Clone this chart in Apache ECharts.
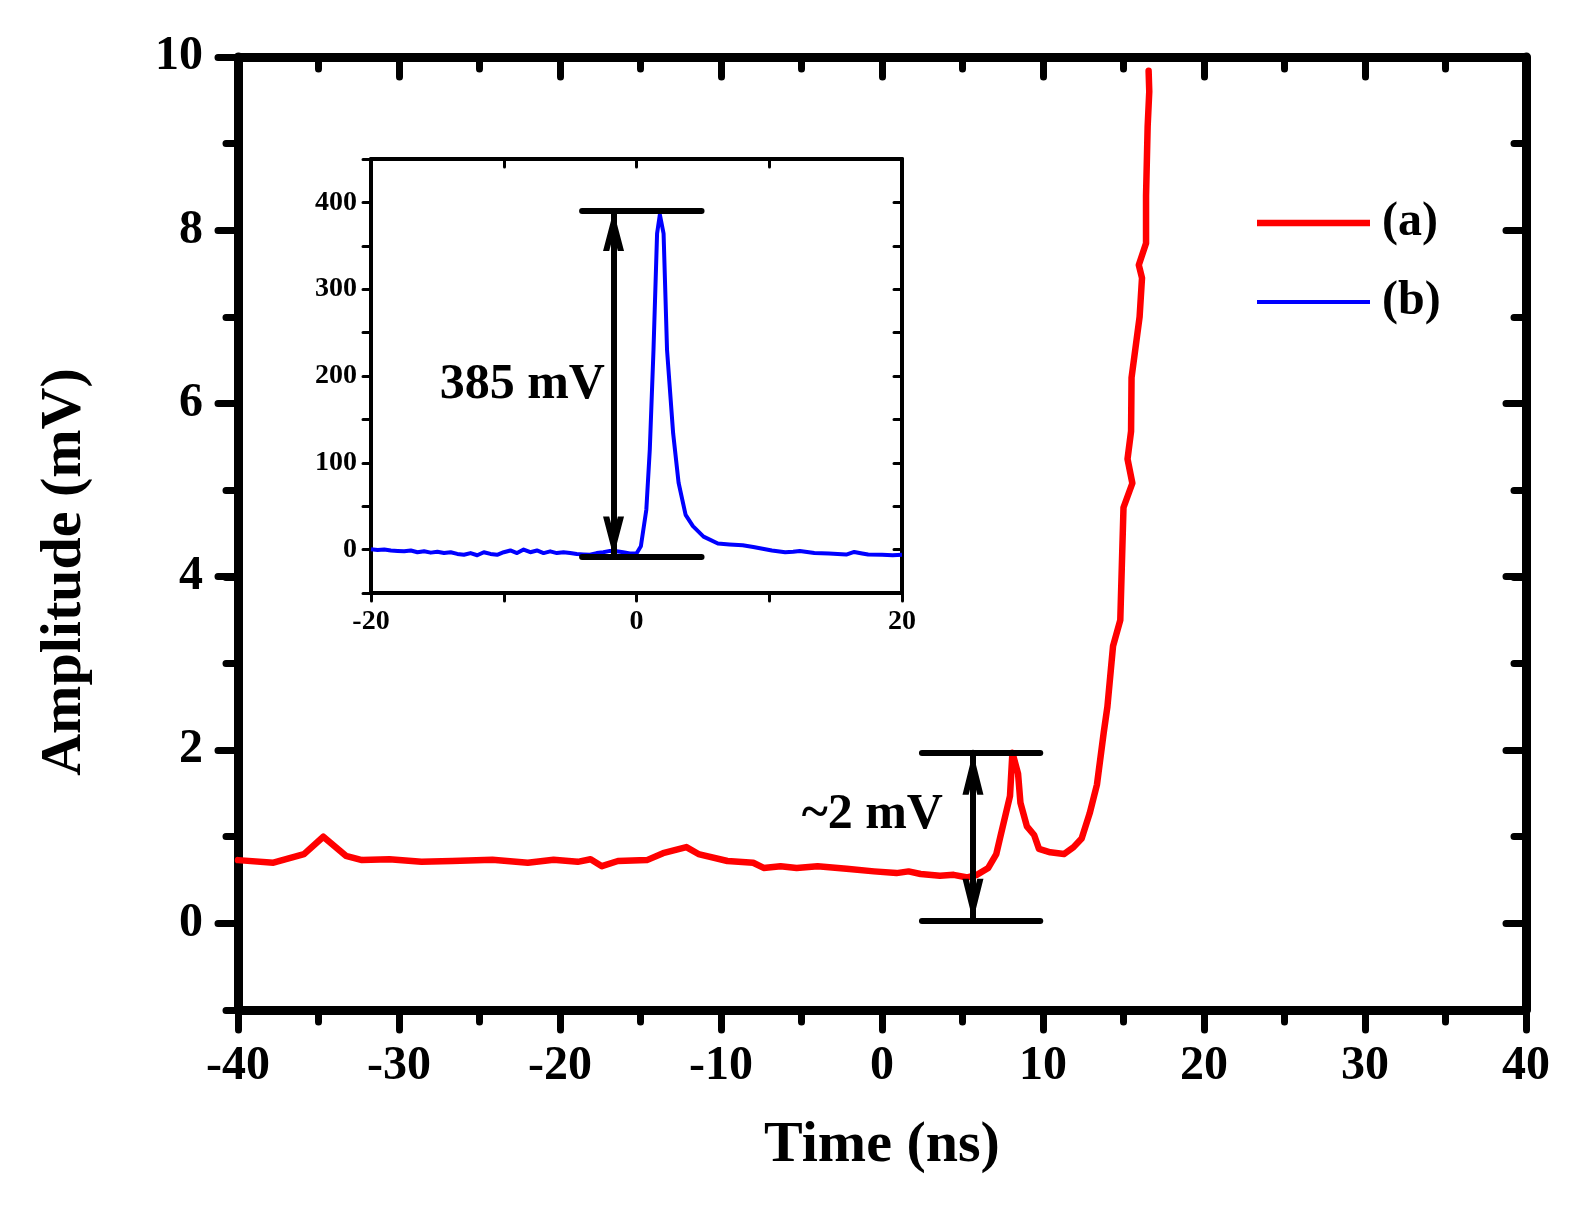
<!DOCTYPE html>
<html>
<head>
<meta charset="utf-8">
<script src="https://cdn.jsdelivr.net/npm/echarts@6/dist/echarts.min.js"></script>
<style>
html,body{margin:0;padding:0;background:#ffffff;}
#chart{width:1581px;height:1209px;}
</style>
</head>
<body>
<div id="chart"></div>
<script>
// ---------- data ----------
// (a) main trace: time (ns) and amplitude (mV)
const redTime = [-40, -37.8, -35.9, -34.7, -33.3, -32.3, -30.6, -28.6, -26.7, -24.2, -22.0, -20.4, -18.9, -18.1, -17.4, -16.4, -14.6, -13.6, -12.15, -11.4, -9.6, -8.0, -7.35, -6.3, -5.3, -4.0, -2.2, -0.5, 0.9, 1.65, 2.4, 3.6, 4.45, 5.3, 5.9, 6.6, 7.1, 7.35, 7.95, 8.1, 8.45, 8.6, 9.0, 9.45, 9.75, 10.45, 11.3, 11.9, 12.4, 12.9, 13.35, 13.77, 14.0, 14.35, 14.8, 15.0, 15.55, 15.25, 15.47, 15.5, 16.0, 16.15, 15.95, 16.4, 16.4, 16.5, 16.6, 16.56];
const redAmp  = [0.73, 0.70, 0.80, 1.0, 0.78, 0.73, 0.74, 0.71, 0.72, 0.735, 0.70, 0.735, 0.71, 0.74, 0.66, 0.72, 0.73, 0.81, 0.88, 0.80, 0.72, 0.70, 0.64, 0.66, 0.64, 0.66, 0.63, 0.60, 0.58, 0.60, 0.57, 0.55, 0.56, 0.53, 0.56, 0.64, 0.80, 1.0, 1.47, 1.97, 1.73, 1.39, 1.12, 1.02, 0.86, 0.82, 0.80, 0.88, 0.98, 1.27, 1.6, 2.2, 2.5, 3.2, 3.5, 4.8, 5.08, 5.36, 5.68, 6.3, 7.0, 7.45, 7.6, 7.85, 8.4, 9.2, 9.6, 9.84];

// (b) inset trace: time (ns) and amplitude (mV)
const blueTime = [-20, -19.5, -19, -18.5, -18, -17.5, -17, -16.5, -16, -15.5, -15, -14.5, -14, -13.5, -13, -12.5, -12, -11.5, -11, -10.5, -10, -9.5, -9, -8.5, -8, -7.5, -7, -6.5, -6, -5.5, -5, -4.5, -4, -3.5, -3, -2.5, -2, -1.5, -1, -0.5, 0, 0.33, 0.74, 1.0, 1.28, 1.55, 1.76, 2.04, 2.3, 2.76, 3.17, 3.7, 4.25, 5.05, 6.13, 7.0, 8.0, 8.8, 9.5, 10.2, 11.2, 11.8, 12.3, 13.4, 14.5, 15.8, 16.4, 17.0, 17.45, 18.5, 19.3, 20];
const blueAmp  = [0.5, -0.5, 0, -1, -1.5, -2, -1, -3, -2, -3.5, -2.5, -4, -3, -5, -6, -4, -6.5, -3, -5, -6, -3, -1, -4, 0, -3, -1, -4, -2, -4, -3, -4, -5, -5.5, -6, -4, -3, -1.5, -2, -3, -4.5, -4.5, 3.8, 46, 115, 230, 364, 386, 364, 230, 134, 77, 40, 27, 15, 7, 6, 5, 3, 1, -1, -3, -2.5, -1.5, -3.8, -4.5, -5.7, -2.7, -4.5, -5.7, -6, -6.5, -6];

// annotation values
const mainBarTime = [2.48, 9.83];      // extent of the ~2 mV bars
const mainBarAmp  = [0.03, 1.97];      // lower / upper bar level
const mainArrowTime = 5.65;
const mainLabel = { text: '~2 mV', time: -0.6, amp: 1.255 };
const insetBarTime = [-4.1, 4.9];
const insetBarAmp  = [-8, 390];
const insetArrowTime = -1.73;
const insetLabel = { text: '385 mV', time: -8.6, amp: 189 };

// tick labels
const mainYLabels  = [0, 2, 4, 6, 8, 10];
const insetXLabels = [-20, 0, 20];
const insetYLabels = [0, 100, 200, 300, 400];
const legendNames  = ['(a)', '(b)'];

// ---------- chart ----------
const FONT = 'Liberation Serif';
const BLACK = '#000000';
const redData  = redTime.map((t, i) => [t, redAmp[i]]);
const blueData = blueTime.map((t, i) => [t, blueAmp[i]]);

const chevron = 'path://M10,0 L10.05,0 L10.05,0.05 Z M10,42 L20.5,84 L14.3,84 L10,66.8 L5.7,84 L-0.5,84 Z';

function tickStyle(w) { return { color: BLACK, width: w, cap: 'round' }; }

const mainTickW = 7;
const insetTickW = 3;

const option = {
  animation: false,
  backgroundColor: '#ffffff',
  grid: [
    { left: 238, top: 57, width: 1288, height: 953 },           // main
    { left: 238, top: 57, width: 1288, height: 866 },           // main major y ticks (0..10)
    { left: 371, top: 159, width: 531, height: 434 }            // inset
  ],
  xAxis: [
    { gridIndex: 0, type: 'value', position: 'bottom', min: -40, max: 40, interval: 10,
      axisLine: { show: true, onZero: false, lineStyle: { color: BLACK, width: 9 } },
      axisTick: { show: true, length: 20, lineStyle: tickStyle(mainTickW) },
      minorTick: { show: true, splitNumber: 2, length: 12, lineStyle: tickStyle(mainTickW) },
      splitLine: { show: false }, minorSplitLine: { show: false },
      axisLabel: { show: true, margin: 33, fontFamily: FONT, fontSize: 48, fontWeight: 'bold', color: BLACK },
      name: 'Time (ns)', nameLocation: 'middle', nameGap: 107,
      nameTextStyle: { fontFamily: FONT, fontSize: 58, fontWeight: 'bold', color: BLACK } },
    { gridIndex: 0, type: 'value', position: 'top', min: -40, max: 40, interval: 10,
      axisLine: { show: true, onZero: false, lineStyle: { color: BLACK, width: 9 } },
      axisTick: { show: true, inside: true, length: 20, lineStyle: tickStyle(mainTickW) },
      minorTick: { show: true, splitNumber: 2, length: 12, lineStyle: tickStyle(mainTickW) },
      splitLine: { show: false }, minorSplitLine: { show: false },
      axisLabel: { show: false } },
    { gridIndex: 1, type: 'value', min: -40, max: 40, show: false },
    { gridIndex: 2, type: 'value', position: 'bottom', min: -20, max: 20, interval: 10,
      axisLine: { show: true, onZero: false, lineStyle: { color: BLACK, width: 4 } },
      axisTick: { show: true, length: 8, lineStyle: tickStyle(insetTickW) },
      splitLine: { show: false },
      axisLabel: { show: true, margin: 15, fontFamily: FONT, fontSize: 28, fontWeight: 'bold', color: BLACK,
        formatter: v => insetXLabels.includes(v) ? String(v) : '' } },
    { gridIndex: 2, type: 'value', position: 'top', min: -20, max: 20, interval: 10,
      axisLine: { show: true, onZero: false, lineStyle: { color: BLACK, width: 4 } },
      axisTick: { show: true, inside: true, length: 8, lineStyle: tickStyle(insetTickW) },
      splitLine: { show: false }, axisLabel: { show: false } }
  ],
  yAxis: [
    { gridIndex: 0, type: 'value', position: 'left', min: -1, max: 10, interval: 1,
      axisLine: { show: true, onZero: false, lineStyle: { color: BLACK, width: 9 } },
      axisTick: { show: true, length: 12, lineStyle: tickStyle(mainTickW) },
      splitLine: { show: false },
      axisLabel: { show: true, margin: 35, fontFamily: FONT, fontSize: 48, fontWeight: 'bold', color: BLACK,
        formatter: v => mainYLabels.includes(v) ? String(v) : '' } },
    { gridIndex: 0, type: 'value', position: 'right', min: -1, max: 10, interval: 1,
      axisLine: { show: true, onZero: false, lineStyle: { color: BLACK, width: 9 } },
      axisTick: { show: true, inside: true, length: 12, lineStyle: tickStyle(mainTickW) },
      splitLine: { show: false }, axisLabel: { show: false } },
    { gridIndex: 1, type: 'value', position: 'left', min: 0, max: 10, interval: 2,
      axisLine: { show: false, onZero: false },
      axisTick: { show: true, length: 20, lineStyle: tickStyle(mainTickW) },
      splitLine: { show: false }, axisLabel: { show: false } },
    { gridIndex: 1, type: 'value', position: 'right', min: 0, max: 10, interval: 2,
      axisLine: { show: false, onZero: false },
      axisTick: { show: true, inside: true, length: 20, lineStyle: tickStyle(mainTickW) },
      splitLine: { show: false }, axisLabel: { show: false } },
    { gridIndex: 2, type: 'value', position: 'left', min: -50, max: 450, interval: 50,
      axisLine: { show: true, onZero: false, lineStyle: { color: BLACK, width: 4 } },
      axisTick: { show: true, length: 8, lineStyle: tickStyle(insetTickW) },
      splitLine: { show: false },
      axisLabel: { show: true, margin: 14, fontFamily: FONT, fontSize: 28, fontWeight: 'bold', color: BLACK,
        formatter: v => insetYLabels.includes(v) ? String(v) : '' } },
    { gridIndex: 2, type: 'value', position: 'right', min: -50, max: 450, interval: 50,
      axisLine: { show: true, onZero: false, lineStyle: { color: BLACK, width: 4 } },
      axisTick: { show: true, inside: true, length: 8, lineStyle: tickStyle(insetTickW) },
      splitLine: { show: false }, axisLabel: { show: false } }
  ],
  legend: {
    orient: 'vertical', left: 1257, top: 199, padding: 0,
    itemWidth: 113, itemHeight: 14, itemGap: 31, selectedMode: false,
    textStyle: { fontFamily: FONT, fontSize: 48, fontWeight: 'bold', color: BLACK, padding: [0, 0, 0, 7] },
    data: [
      { name: legendNames[0], icon: 'path://M0,0H113V6.5H0Z' },
      { name: legendNames[1], icon: 'path://M0,0H116V4H0Z' }
    ]
  },
  graphic: [
    { type: 'text', x: 65, y: 572, rotation: Math.PI / 2, silent: true,
      style: { text: 'Amplitude (mV)', fontFamily: FONT, fontSize: 58, fontWeight: 'bold', fill: BLACK,
        align: 'center', verticalAlign: 'middle' } }
  ],
  series: [
    { name: legendNames[0], type: 'line', xAxisIndex: 0, yAxisIndex: 0, data: redData,
      symbol: 'none', color: '#ff0000', lineStyle: { color: '#ff0000', width: 6.5, join: 'round', cap: 'round' }, z: 3,
      markLine: {
        silent: true, symbol: ['none', 'none'], label: { show: false }, z: 5,
        lineStyle: { color: BLACK, width: 6, type: 'solid', cap: 'round' },
        emphasis: { disabled: true },
        data: [
          [{ coord: [mainBarTime[0], mainBarAmp[1]] }, { coord: [mainBarTime[1], mainBarAmp[1]] }],
          [{ coord: [mainBarTime[0], mainBarAmp[0]] }, { coord: [mainBarTime[1], mainBarAmp[0]] }],
          [{ coord: [mainArrowTime, mainBarAmp[0]], symbol: chevron, symbolSize: [21, 84] },
           { coord: [mainArrowTime, mainBarAmp[1]], symbol: chevron, symbolSize: [21, 84] }]
        ]
      },
      markPoint: {
        silent: true, symbol: 'circle', symbolSize: 0,
        label: { show: true, position: 'inside', formatter: '{b}', fontFamily: FONT, fontSize: 50, fontWeight: 'bold', color: BLACK },
        data: [{ name: mainLabel.text, coord: [mainLabel.time, mainLabel.amp] }]
      }
    },
    { name: legendNames[1], type: 'line', xAxisIndex: 3, yAxisIndex: 4, data: blueData,
      symbol: 'none', color: '#0000ff', lineStyle: { color: '#0000ff', width: 4, join: 'round' }, z: 3,
      markLine: {
        silent: true, symbol: ['none', 'none'], label: { show: false }, z: 5,
        lineStyle: { color: BLACK, width: 6, type: 'solid', cap: 'round' },
        emphasis: { disabled: true },
        data: [
          [{ coord: [insetBarTime[0], insetBarAmp[1]] }, { coord: [insetBarTime[1], insetBarAmp[1]] }],
          [{ coord: [insetBarTime[0], insetBarAmp[0]] }, { coord: [insetBarTime[1], insetBarAmp[0]] }],
          [{ coord: [insetArrowTime, insetBarAmp[0]], symbol: chevron, symbolSize: [21, 80] },
           { coord: [insetArrowTime, insetBarAmp[1]], symbol: chevron, symbolSize: [21, 80] }]
        ]
      },
      markPoint: {
        silent: true, symbol: 'circle', symbolSize: 0,
        label: { show: true, position: 'inside', formatter: '{b}', fontFamily: FONT, fontSize: 50, fontWeight: 'bold', color: BLACK },
        data: [{ name: insetLabel.text, coord: [insetLabel.time, insetLabel.amp] }]
      }
    }
  ]
};

const chart = echarts.init(document.getElementById('chart'), null, { renderer: 'canvas' });
chart.setOption(option);
</script>
</body>
</html>
